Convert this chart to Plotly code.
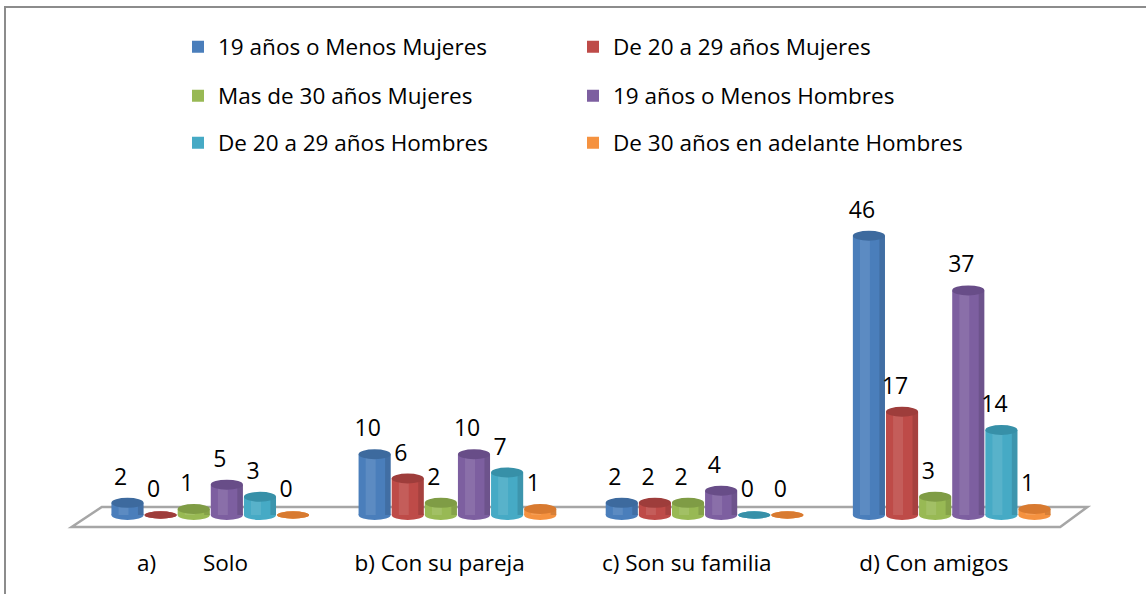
import plotly.graph_objects as go

# ---- data ----
NB = "\u00a0"
categories = ["a)" + NB * 8 + "Solo", "b) Con su pareja", "c) Son su familia", "d) Con amigos"]
series_names = [
    "19 años o Menos Mujeres",
    "De 20 a 29 años Mujeres",
    "Mas de 30 años Mujeres",
    "19 años o Menos Hombres",
    "De 20 a 29 años Hombres",
    "De 30 años en adelante Hombres",
]
menos19_mujeres = [2, 10, 2, 46]
de20a29_mujeres = [0, 6, 2, 17]
mas30_mujeres = [1, 2, 2, 3]
menos19_hombres = [5, 10, 4, 37]
de20a29_hombres = [3, 7, 0, 14]
mas30_hombres = [0, 1, 0, 1]
series_values = [menos19_mujeres, de20a29_mujeres, mas30_mujeres,
                 menos19_hombres, de20a29_hombres, mas30_hombres]

colors = ["#4A7EBB", "#BE4B48", "#98B954", "#7D5FA0", "#46AAC5", "#F59240"]
tops = ["#3D6A9E", "#9E3D3B", "#7F9C45", "#684D88", "#3790A8", "#D87A30"]

FONT = "Open Sans"
TXT = 22.5
W = 0.134          # bar width in category units
LABEL_DY = 3.9     # label lift above bar top (value units)
LABEL_DX = -0.028  # label shift (category units)
n = len(series_values)

fig = go.Figure()
shapes = []

# floor of the 3D plot
shapes.append(dict(type="path", xref="x", yref="y", layer="below",
                   path="M -0.561,-1.98 L -0.439,1.32 L 3.549,1.32 L 3.439,-1.98 Z",
                   line=dict(color="#A6A6A6", width=2.5), fillcolor="rgba(0,0,0,0)"))

for j, (name, vals) in enumerate(zip(series_names, series_values)):
    xs = [i + (j - (n - 1) / 2) * W for i in range(len(categories))]
    leg = "legend" if j // 2 == 0 else f"legend{j // 2 + 1}"
    fig.add_trace(go.Bar(
        x=xs, y=vals, width=W * 0.97, name=name, legend=leg,
        marker=dict(color=colors[j], line=dict(width=0)),
        hoverinfo="name+y",
    ))
    # cylinder shading: soft highlight and darker right edge
    fig.add_trace(go.Bar(
        x=[x - W * 0.12 for x in xs], y=vals, width=W * 0.3, showlegend=False,
        marker=dict(color="rgba(255,255,255,0.10)", line=dict(width=0)), hoverinfo="skip",
    ))
    fig.add_trace(go.Bar(
        x=[x + W * 0.4 for x in xs], y=vals, width=W * 0.17, showlegend=False,
        marker=dict(color="rgba(0,0,0,0.12)", line=dict(width=0)), hoverinfo="skip",
    ))
    fig.add_trace(go.Scatter(
        x=[x + LABEL_DX for x in xs], y=[v + LABEL_DY for v in vals], mode="text",
        text=[str(v) for v in vals], textposition="middle center",
        textfont=dict(size=23, color="#000000", family=FONT),
        showlegend=False, hoverinfo="skip", cliponaxis=False,
    ))
    for xc, v in zip(xs, vals):
        eh = 1.65 if v > 0 else 1.2
        shapes.append(dict(type="circle", xref="x", yref="y", layer="below",
                           x0=xc - W * 0.485, x1=xc + W * 0.485, y0=-eh / 2, y1=eh / 2,
                           fillcolor=colors[j], line=dict(width=0)))
        shapes.append(dict(type="circle", xref="x", yref="y", layer="above",
                           x0=xc - W * 0.485, x1=xc + W * 0.485, y0=v - eh / 2, y1=v + eh / 2,
                           fillcolor=tops[j], line=dict(width=0)))

# outer frame of the chart area
shapes.append(dict(type="rect", xref="paper", yref="paper",
                   xsizemode="pixel", xanchor=0, x0=-57, x1=2000,
                   ysizemode="pixel", yanchor=1, y0=-1000, y1=183,
                   line=dict(color="#8C8C8C", width=2), fillcolor="rgba(0,0,0,0)"))

legend_rows_y = [1 - 47 / 594, 1 - 96 / 594, 1 - 143 / 594]
legend_common = dict(orientation="h", xref="container", yref="container",
                     x=178 / 1146, xanchor="left", yanchor="middle",
                     entrywidth=350, entrywidthmode="pixels",
                     font=dict(size=TXT, family=FONT, color="#000000"),
                     bgcolor="rgba(0,0,0,0)", itemclick=False, itemdoubleclick=False)

fig.update_layout(
    width=1146, height=594,
    margin=dict(l=62, r=46, t=190, b=64),
    paper_bgcolor="white", plot_bgcolor="white",
    barmode="overlay", showlegend=True,
    font=dict(family=FONT, size=TXT, color="#000000"),
    shapes=shapes,
    legend=dict(y=legend_rows_y[0], **legend_common),
    legend2=dict(y=legend_rows_y[1], **legend_common),
    legend3=dict(y=legend_rows_y[2], **legend_common),
    xaxis=dict(range=[-0.6, 3.6], tickvals=[i - 0.072 for i in range(len(categories))],
               ticktext=categories, ticks="", showgrid=False, zeroline=False,
               showline=False, ticklabelstandoff=17,
               tickfont=dict(size=TXT, family=FONT, color="#000000")),
    yaxis=dict(range=[-2.47, 53.54], visible=False),
)

fig.write_html("out.html", config={"displayModeBar": False},
               post_script="document.body.style.margin='0';")
